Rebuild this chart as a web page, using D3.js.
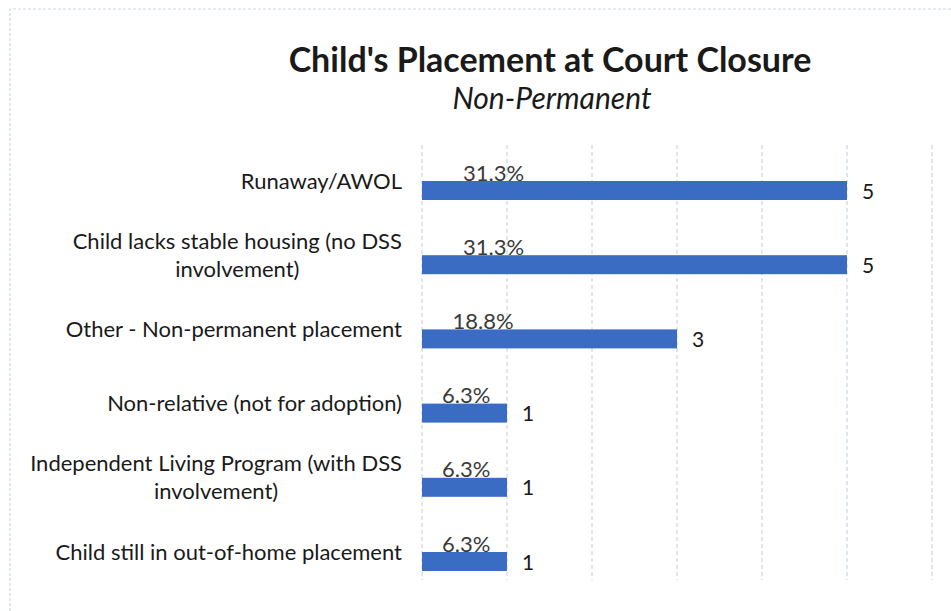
<!DOCTYPE html>
<html>
<head>
<meta charset="utf-8">
<script src="https://cdn.jsdelivr.net/npm/d3@7"></script>
<style>
  html, body { margin: 0; padding: 0; background: #fff; }
  svg { display: block; }
</style>
</head>
<body>
<div id="chart"></div>
<script>
// Chart data
const categories = [
    ["Runaway/AWOL"],
    ["Child lacks stable housing (no DSS", "involvement)"],
    ["Other - Non-permanent placement"],
    ["Non-relative (not for adoption)"],
    ["Independent Living Program (with DSS", "involvement)"],
    ["Child still in out-of-home placement"]
];
const counts = [5, 5, 3, 1, 1, 1];
const percents = ["31.3%", "31.3%", "18.8%", "6.3%", "6.3%", "6.3%"];
const xTicks = [0, 1, 2, 3, 4, 5, 6];

const title = "Child's Placement at Court Closure";
const subtitle = "Non-Permanent";

const width = 951, height = 611;
const font = "Lato, 'Noto Sans', sans-serif";
const barColor = "#3a6cc3";

const svg = d3.select("#chart").append("svg")
    .attr("width", width)
    .attr("height", height);

// faint scanned frame
svg.append("path")
    .attr("d", `M10,${height}L10,9L${width},9`)
    .attr("fill", "none")
    .attr("stroke", "#cbd7e3")
    .attr("stroke-width", 1.2)
    .attr("stroke-dasharray", "3,2");

svg.append("text")
    .attr("x", 550).attr("y", 72)
    .attr("text-anchor", "middle")
    .style("font-family", font)
    .style("font-weight", "bold")
    .style("font-size", "34px")
    .style("fill", "#1a1a1a")
    .text(title);

svg.append("text")
    .attr("x", 552).attr("y", 109)
    .attr("text-anchor", "middle")
    .style("font-family", font)
    .style("font-style", "italic")
    .style("font-size", "30px")
    .style("fill", "#1a1a1a")
    .text(subtitle);

const x = d3.scaleLinear().domain([0, 6]).range([422, 932]);
const y = d3.scaleBand()
    .domain(d3.range(categories.length))
    .range([153.4, 598.6])
    .paddingInner(0.744)
    .paddingOuter(0.372);

// gridlines
svg.append("g")
    .attr("class", "grid")
    .selectAll("line")
    .data(xTicks)
    .enter().append("line")
    .attr("x1", d => x(d)).attr("x2", d => x(d))
    .attr("y1", 145).attr("y2", 580)
    .attr("stroke", "#c8d6e4")
    .attr("stroke-width", 1.2)
    .attr("stroke-dasharray", "4,3");

// bars
svg.append("g")
    .attr("class", "bars")
    .selectAll("rect")
    .data(counts)
    .enter().append("rect")
    .attr("x", x(0))
    .attr("y", (d, i) => y(i))
    .attr("width", d => x(d) - x(0))
    .attr("height", y.bandwidth())
    .attr("fill", barColor);

// count labels to the right of the bars
svg.append("g")
    .selectAll("text")
    .data(counts)
    .enter().append("text")
    .attr("x", d => x(d) + 15)
    .attr("y", (d, i) => y(i) + y.bandwidth() / 2 + 8)
    .style("font-family", font)
    .style("font-size", "21px")
    .style("fill", "#1a1a1a")
    .text(d => d);

// percentage labels sitting on top of the bars
svg.append("g")
    .selectAll("text")
    .data(percents)
    .enter().append("text")
    .attr("x", (d, i) => x(0) + 20 + (x(counts[i]) - x(1)) * 0.062)
    .attr("y", (d, i) => y(i) - 0.5)
    .style("font-family", font)
    .style("font-size", "22px")
    .style("fill", "#3a3a3a")
    .text(d => d);

// category labels: lines centred on each other, block right-aligned
const labelRight = 402, lineGap = 28;
const labels = svg.append("g").attr("class", "labels");
categories.forEach((lines, i) => {
    const cy = y(i) + y.bandwidth() / 2 - 2;
    const g = labels.append("g");
    const texts = lines.map((line, k) => g.append("text")
        .attr("y", cy - (lines.length - 1) * lineGap / 2 + k * lineGap)
        .attr("text-anchor", "middle")
        .style("font-family", font)
        .style("font-size", "22px")
        .style("fill", "#1a1a1a")
        .text(line));
    const maxW = d3.max(texts, t => t.node().getComputedTextLength());
    texts.forEach(t => t.attr("x", labelRight - maxW / 2));
});
</script>
</body>
</html>
